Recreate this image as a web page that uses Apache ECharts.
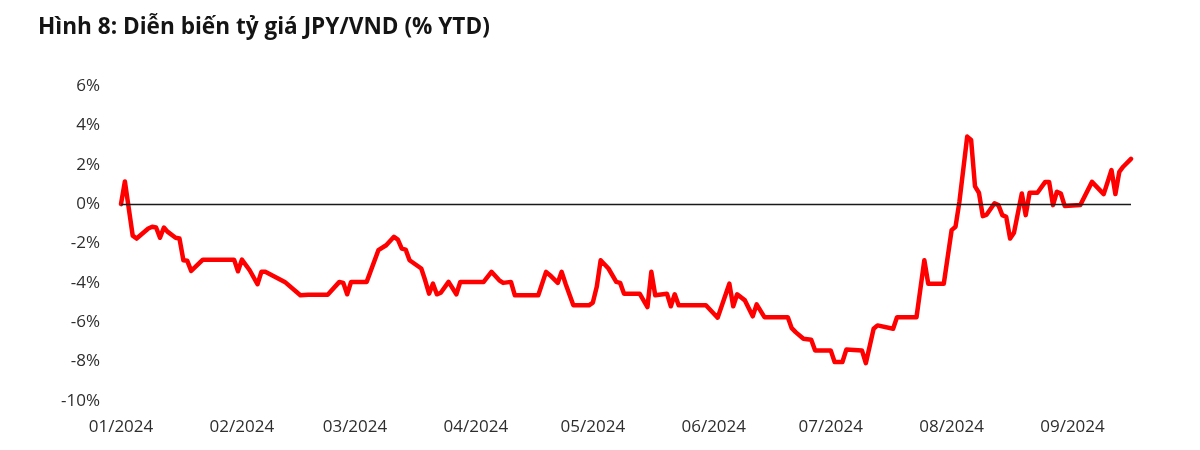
<!DOCTYPE html>
<html>
<head>
<meta charset="utf-8">
<script src="https://cdn.jsdelivr.net/npm/echarts@6/dist/echarts.min.js"></script>
<style>
html,body{margin:0;padding:0;background:#fff;}
#chart{width:1200px;height:450px;}
</style>
</head>
<body>
<div id="chart"></div>
<script>
const titleText = 'Hình 8: Diễn biến tỷ giá JPY/VND (% YTD)';
const dates = [
'2024-01-01','2024-01-02','2024-01-04','2024-01-05','2024-01-08','2024-01-09','2024-01-10','2024-01-11','2024-01-12','2024-01-13',
'2024-01-15','2024-01-16','2024-01-17','2024-01-18','2024-01-19','2024-01-22','2024-01-30','2024-01-31','2024-02-01','2024-02-03',
'2024-02-05','2024-02-06','2024-02-07','2024-02-12','2024-02-16','2024-02-18','2024-02-23','2024-02-26','2024-02-27','2024-02-28',
'2024-02-29','2024-03-04','2024-03-07','2024-03-09','2024-03-11','2024-03-12','2024-03-13','2024-03-14','2024-03-15','2024-03-18',
'2024-03-19','2024-03-20','2024-03-21','2024-03-22','2024-03-23','2024-03-25','2024-03-27','2024-03-28','2024-04-03','2024-04-05',
'2024-04-07','2024-04-08','2024-04-10','2024-04-11','2024-04-17','2024-04-19','2024-04-20','2024-04-22','2024-04-23','2024-04-24',
'2024-04-26','2024-04-30','2024-05-01','2024-05-02','2024-05-03','2024-05-05','2024-05-07','2024-05-08','2024-05-09','2024-05-13',
'2024-05-15','2024-05-16','2024-05-17','2024-05-20','2024-05-21','2024-05-22','2024-05-23','2024-05-30','2024-06-02','2024-06-05',
'2024-06-06','2024-06-07','2024-06-09','2024-06-11','2024-06-12','2024-06-14','2024-06-20','2024-06-21','2024-06-22','2024-06-24',
'2024-06-26','2024-06-27','2024-07-01','2024-07-02','2024-07-04','2024-07-05','2024-07-09','2024-07-10','2024-07-12','2024-07-13',
'2024-07-17','2024-07-18','2024-07-23','2024-07-25','2024-07-26','2024-07-30','2024-08-01','2024-08-02','2024-08-03','2024-08-05',
'2024-08-06','2024-08-07','2024-08-08','2024-08-09','2024-08-10','2024-08-12','2024-08-13','2024-08-14','2024-08-15','2024-08-16',
'2024-08-17','2024-08-19','2024-08-20','2024-08-21','2024-08-23','2024-08-25','2024-08-26','2024-08-27','2024-08-28','2024-08-29',
'2024-08-30','2024-09-03','2024-09-06','2024-09-09','2024-09-11','2024-09-12','2024-09-13','2024-09-14','2024-09-16'
];
const values = [
0,1.15,-1.6,-1.75,-1.24,-1.15,-1.19,-1.71,-1.19,-1.41,
-1.71,-1.75,-2.85,-2.88,-3.39,-2.82,-2.82,-3.41,-2.82,-3.36,
-4.07,-3.44,-3.44,-3.95,-4.63,-4.6,-4.6,-3.95,-4.0,-4.58,
-3.95,-3.95,-2.34,-2.09,-1.66,-1.8,-2.26,-2.31,-2.85,-3.27,
-3.87,-4.55,-4.04,-4.58,-4.5,-3.95,-4.58,-3.95,-3.95,-3.44,
-3.87,-4.0,-3.95,-4.63,-4.63,-3.44,-3.61,-4.0,-3.44,-4.04,
-5.14,-5.14,-5.0,-4.2,-2.85,-3.27,-3.95,-4.0,-4.55,-4.55,
-5.23,-3.44,-4.63,-4.55,-5.19,-4.58,-5.14,-5.14,-5.77,-4.04,
-5.19,-4.58,-4.89,-5.7,-5.09,-5.74,-5.74,-6.3,-6.5,-6.84,
-6.89,-7.43,-7.43,-8.02,-8.02,-7.39,-7.43,-8.08,-6.33,-6.16,
-6.33,-5.74,-5.74,-2.85,-4.04,-4.04,-1.32,-1.15,0.12,3.43,
3.26,0.9,0.58,-0.61,-0.53,0.04,-0.05,-0.56,-0.65,-1.75,
-1.45,0.54,-0.56,0.58,0.58,1.13,1.13,-0.05,0.63,0.54,
-0.09,-0.05,1.13,0.51,1.73,0.51,1.64,1.9,2.3
];
const monthTicks = ['2024-01-01','2024-02-01','2024-03-01','2024-04-01','2024-05-01','2024-06-01','2024-07-01','2024-08-01','2024-09-01'];
const xMin = '2024-01-01';
const xMax = '2024-09-16';
const yTicks = [-10,-8,-6,-4,-2,0,2,4,6];

const DAY = 86400000;
function utc(s){ const p = s.split('-').map(Number); return Date.UTC(p[0], p[1]-1, p[2]); }
const base = utc(xMin);
function dayOf(s){ return Math.round((utc(s) - base) / DAY); }
function pad(n){ return (n<10?'0':'')+n; }
function labelOf(day){ const d = new Date(base + day*DAY); return pad(d.getUTCMonth()+1)+'/'+d.getUTCFullYear(); }

const seriesData = dates.map((d,i)=>[dayOf(d), values[i]]);

const chart = echarts.init(document.getElementById('chart'), null, {renderer:'canvas'});
chart.setOption({
  animation:false,
  backgroundColor:'#ffffff',
  title:{
    text:titleText,
    left:38, top:16, padding:0,
    textStyle:{fontFamily:'Open Sans', fontWeight:'bold', fontSize:22.6, color:'#141414'}
  },
  grid:{left:121, right:69, top:86, bottom:49, containLabel:false},
  xAxis:{
    type:'value',
    min:0, max:dayOf(xMax),
    axisLine:{show:false},
    axisTick:{show:false},
    splitLine:{show:false},
    axisLabel:{
      customValues: monthTicks.map(dayOf),
      formatter:function(v){ return labelOf(v); },
      fontFamily:'Open Sans', fontSize:17, color:'#2e2e2e', margin:18
    }
  },
  yAxis:{
    type:'value',
    min:yTicks[0], max:yTicks[yTicks.length-1], interval:2,
    axisLine:{show:false}, axisTick:{show:false}, splitLine:{show:false},
    axisLabel:{formatter:'{value}%', fontFamily:'Open Sans', fontSize:17, color:'#2e2e2e', margin:21}
  },
  series:[
    {
      type:'line', data:[], z:1, silent:true,
      markLine:{
        silent:true, symbol:['none','none'], label:{show:false},
        lineStyle:{color:'#1a1a1a', width:1.4, type:'solid'},
        data:[{yAxis:0}]
      }
    },
    {
      type:'line', data:seriesData, z:3, showSymbol:false, symbol:'none',
      lineStyle:{color:'#ff0000', width:4.5, join:'round', cap:'round'},
      itemStyle:{color:'#ff0000'}
    }
  ]
});
</script>
</body>
</html>
